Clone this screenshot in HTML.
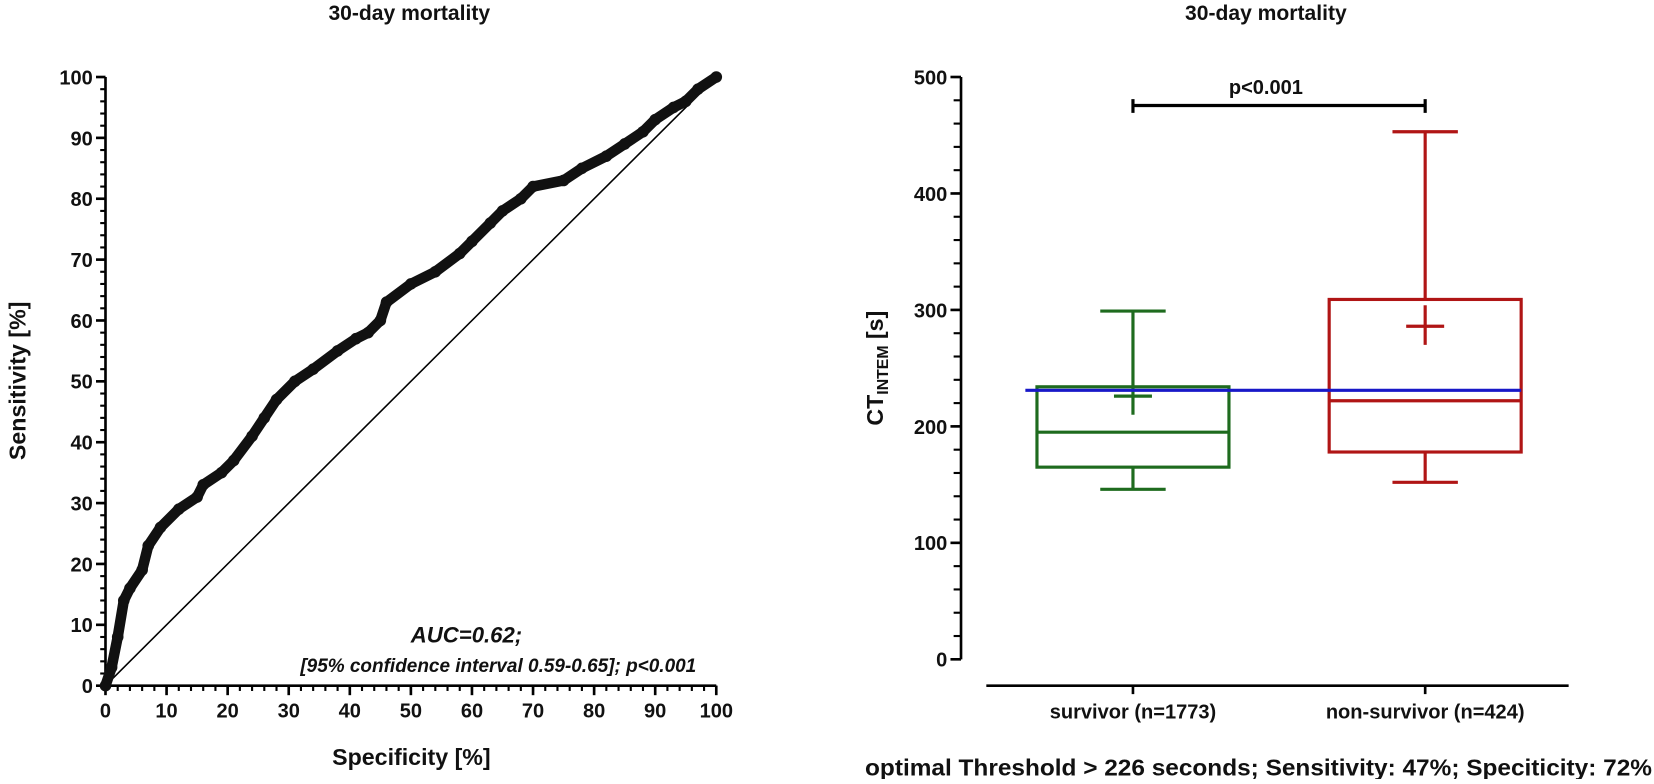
<!DOCTYPE html>
<html><head><meta charset="utf-8"><style>
body{margin:0;background:#fff;}
svg text{font-family:"Liberation Sans",Arial,sans-serif;font-weight:bold;fill:#111;}
</style></head><body>
<svg id="c" width="1654" height="779" viewBox="0 0 1654 779" xmlns="http://www.w3.org/2000/svg">
<g transform="scale(1.0549)">
<g id="left"></g>
<g id="right"></g>
</g>
</svg>
<script>
const rocSpec=[0,1,2,3,4,6,7,9,12,15,16,19,21,24,26,28,31,34,38,41,43,45,46,50,54,58,60,63,65,68,70,75,78,82,85,88,90,93,95,97,100];
const rocSens=[0,3,8,14,16,19,23,26,29,31,33,35,37,41,44,47,50,52,55,57,58,60,63,66,68,71,73,76,78,80,82,83,85,87,89,91,93,95,96,98,100];
const rocTicks=[0,10,20,30,40,50,60,70,80,90,100];
const groups=["survivor (n=1773)","non-survivor (n=424)"];
const q1=[165,178], med=[195,222], q3=[234,309], wLo=[146,152], wHi=[299,453], means=[226,286], meanLo=[210,270], meanHi=[233,304];
const boxColors=["#1e6b1e","#b01515"];
const yTicks=[0,100,200,300,400,500];
const threshold=231;

const NS="http://www.w3.org/2000/svg";
function mk(p,t,a,txt){const e=document.createElementNS(NS,t);for(const k in a)e.setAttribute(k,a[k]);if(txt!=null)e.textContent=txt;p.appendChild(e);return e;}
const L=document.getElementById('left'),R=document.getElementById('right');
const lx=v=>100+v*5.79, ly=v=>650-v*5.77;
let t=mk(L,'text',{x:388,y:19,'font-size':20,'text-anchor':'middle'},'30-day mortality');

let a=mk(L,'path',{d:`M100 ${ly(100)}V650H${lx(100)}`,stroke:'#000','stroke-width':2.5,fill:'none'});

for(let v=0;v<=100;v+=2){
 mk(L,'line',{x1:95,x2:100,y1:ly(v),y2:ly(v),stroke:'#000','stroke-width':2});
 mk(L,'line',{x1:lx(v),x2:lx(v),y1:650,y2:655,stroke:'#000','stroke-width':2});
}
rocTicks.forEach(v=>{
 mk(L,'line',{x1:91,x2:100,y1:ly(v),y2:ly(v),stroke:'#000','stroke-width':2.5});
 let e=mk(L,'text',{x:88,y:ly(v)+7,'font-size':19,'text-anchor':'end'},v);
 
 mk(L,'line',{x1:lx(v),x2:lx(v),y1:650,y2:659,stroke:'#000','stroke-width':2.5});
 e=mk(L,'text',{x:lx(v),y:680,'font-size':19,'text-anchor':'middle'},v);
 
});
t=mk(L,'text',{x:390,y:725,'font-size':22,'text-anchor':'middle'},'Specificity [%]');

t=mk(L,'text',{x:0,y:0,'font-size':22,'text-anchor':'middle',transform:`translate(24,361) rotate(-90)`},'Sensitivity [%]');

let dl=mk(L,'line',{x1:lx(0),y1:ly(0),x2:lx(100),y2:ly(100),stroke:'#000','stroke-width':1.5});

let pl=mk(L,'polyline',{points:rocSpec.map((s,i)=>lx(s)+','+ly(rocSens[i])).join(' '),fill:'none',stroke:'#111','stroke-width':10,'stroke-linejoin':'round','stroke-linecap':'round'});

rocSpec.forEach((s,i)=>{let d=mk(L,'circle',{cx:lx(s),cy:ly(rocSens[i]),r:5.5,fill:'#111'});
 });
t=mk(L,'text',{x:495,y:609,'font-size':21,'font-style':'italic','text-anchor':'end'},'AUC=0.62;');

t=mk(L,'text',{x:660,y:637,'font-size':18,'font-style':'italic','text-anchor':'end'},'[95% confidence interval 0.59-0.65]; p<0.001');


const AX=911;
const ry=v=>625-v*1.104, cx=[1074,1351], hw=91;
t=mk(R,'text',{x:1200,y:19,'font-size':20,'text-anchor':'middle'},'30-day mortality');

a=mk(R,'path',{d:`M${AX} ${ry(500)}V${ry(0)}`,stroke:'#000','stroke-width':2.5});

a=mk(R,'line',{x1:935,x2:1487,y1:650,y2:650,stroke:'#000','stroke-width':2.5});

for(let v=0;v<=500;v+=20){mk(R,'line',{x1:AX-7,x2:AX,y1:ry(v),y2:ry(v),stroke:'#000','stroke-width':2});}
yTicks.forEach(v=>{mk(R,'line',{x1:AX-10,x2:AX,y1:ry(v),y2:ry(v),stroke:'#000','stroke-width':2.5});
 let e=mk(R,'text',{x:AX-13,y:ry(v)+7,'font-size':19,'text-anchor':'end'},v);
 });
t=mk(R,'text',{x:0,y:0,'font-size':22,'text-anchor':'middle',transform:'translate(837,349) rotate(-90)'});

t.innerHTML='CT<tspan font-size="15" dy="5">INTEM</tspan><tspan dy="-5"> [s]</tspan>';
groups.forEach((g,i)=>{const c=boxColors[i],x=cx[i];
 const G=mk(R,'g',{stroke:c,'stroke-width':3,fill:'none'});
 
 mk(G,'rect',{x:x-hw,y:ry(q3[i]),width:2*hw,height:ry(q1[i])-ry(q3[i])});
 mk(G,'line',{x1:x-hw,x2:x+hw,y1:ry(med[i]),y2:ry(med[i])});
 mk(G,'line',{x1:x,x2:x,y1:ry(q3[i]),y2:ry(wHi[i])});
 mk(G,'line',{x1:x,x2:x,y1:ry(q1[i]),y2:ry(wLo[i])});
 mk(G,'line',{x1:x-31,x2:x+31,y1:ry(wHi[i]),y2:ry(wHi[i])});
 mk(G,'line',{x1:x-31,x2:x+31,y1:ry(wLo[i]),y2:ry(wLo[i])});
 mk(G,'line',{x1:x-18,x2:x+18,y1:ry(means[i]),y2:ry(means[i])});
 mk(G,'line',{x1:x,x2:x,y1:ry(meanLo[i]),y2:ry(meanHi[i])});
 mk(R,'line',{x1:x,x2:x,y1:650,y2:658,stroke:'#000','stroke-width':2.5});
 let e=mk(R,'text',{x:x,y:681,'font-size':19,'text-anchor':'middle'},g);
 
});
let bl=mk(R,'line',{x1:972,x2:1442,y1:ry(threshold),y2:ry(threshold),stroke:'#1818c8','stroke-width':3});

let br=mk(R,'path',{d:`M${cx[0]} 94V107M${cx[0]} 100H${cx[1]}M${cx[1]} 94V107`,stroke:'#000','stroke-width':3,fill:'none'});

t=mk(R,'text',{x:1200,y:89,'font-size':19,'text-anchor':'middle'},'p<0.001');

t=mk(R,'text',{x:820,y:735,'font-size':22,textLength:746,lengthAdjust:'spacingAndGlyphs'},'optimal Threshold > 226 seconds; Sensitivity: 47%; Speciticity: 72%');

</script>
</body></html>
